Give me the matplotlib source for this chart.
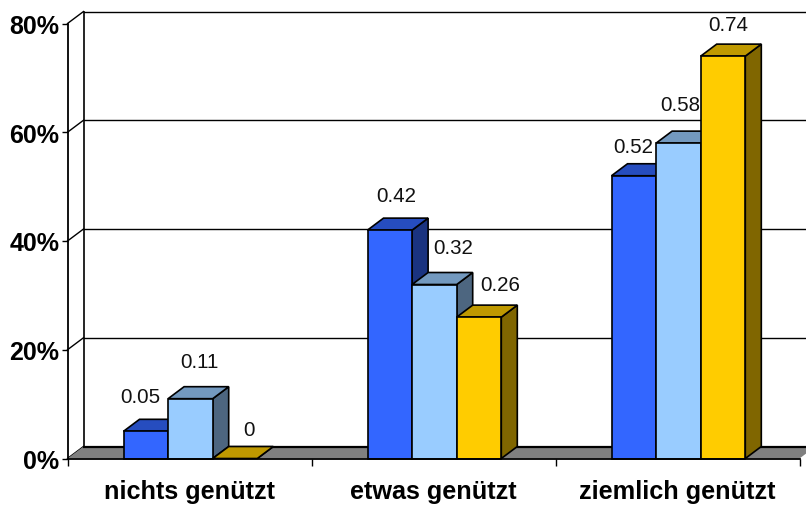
import matplotlib
matplotlib.use("Agg")
import matplotlib.pyplot as plt
from matplotlib.patches import Polygon

plt.rcParams["font.family"] = ["Liberation Sans", "DejaVu Sans"]

categories = ["nichts genützt", "etwas genützt", "ziemlich genützt"]
series_a = [0.05, 0.42, 0.52]
series_b = [0.11, 0.32, 0.58]
series_c = [0, 0.26, 0.74]
y_ticks = [0, 0.2, 0.4, 0.6, 0.8]
y_labels = ["0%", "20%", "40%", "60%", "80%"]

# front, top, side colour per series
colors_a = ("#3366FF", "#264DBF", "#1A3380")
colors_b = ("#99CCFF", "#7399BF", "#4D6680")
colors_c = ("#FFCC00", "#BF9900", "#806600")

# pixel nudges of the value labels relative to the bar centre / top
nudge_a = [(-5, 35), (6, 35), (-1, 29)]
nudge_b = [(9, 37), (19, 37), (2, 39)]
nudge_c = [(14, 29), (21, 33), (5, 32)]

W, H = 806, 506
fig = plt.figure(figsize=(W / 100, H / 100), dpi=100)
ax = fig.add_axes([67.5 / W, (H - 459.5) / H, 732 / W, 435 / H])
ax.set_xlim(0, 3)
ax.set_ylim(0, 0.8)

# depth of the fake 3d box, in data units
dx = 16 / 244
dy = 12 / 544
bar_w = 44.6 / 244
first = 56 / 244

lw = 1.2
ax.patch.set_visible(False)

# back wall
for v in y_ticks:
    ax.plot([0, dx], [v, v + dy], color="black", lw=1.0, clip_on=False, zorder=1)
    if v > 0:
        ax.plot([dx, 3.03], [v + dy, v + dy], color="black", lw=1.0, clip_on=False, zorder=1)
ax.plot([dx, dx], [dy, 0.8 + dy], color="black", lw=1.2, clip_on=False, zorder=1)

# floor
ax.add_patch(Polygon([(0, 0), (3, 0), (3 + dx, dy), (dx, dy)], closed=True,
                     facecolor="#808080", edgecolor="none", clip_on=False, zorder=1.5))
ax.plot([dx, 3.03], [dy, dy], color="black", lw=1.6, clip_on=False, zorder=1.6)


def draw_bar(x0, v, cols):
    x1 = x0 + bar_w
    ax.add_patch(Polygon([(x1, 0), (x1 + dx, dy), (x1 + dx, v + dy), (x1, v)], closed=True,
                         facecolor=cols[2], edgecolor="black", lw=lw, clip_on=False, zorder=3))
    ax.add_patch(Polygon([(x0, v), (x1, v), (x1 + dx, v + dy), (x0 + dx, v + dy)], closed=True,
                         facecolor=cols[1], edgecolor="black", lw=lw, clip_on=False, zorder=3))
    if v > 0:
        ax.add_patch(Polygon([(x0, 0), (x1, 0), (x1, v), (x0, v)], closed=True,
                             facecolor=cols[0], edgecolor="black", lw=lw, clip_on=False, zorder=3))


for i in range(len(categories)):
    rows = [(series_a, colors_a, nudge_a), (series_b, colors_b, nudge_b), (series_c, colors_c, nudge_c)]
    for j, (vals, cols, nudge) in enumerate(rows):
        x0 = i + first + j * bar_w
        draw_bar(x0, vals[i], cols)
        ax.annotate(str(vals[i]), (x0 + bar_w / 2, vals[i]),
                    xytext=(nudge[i][0] * 0.72, nudge[i][1] * 0.72), textcoords="offset points",
                    ha="center", va="center", fontsize=14.8, color="#111111",
                    annotation_clip=False, zorder=5)

# axes
for s in ["top", "right"]:
    ax.spines[s].set_visible(False)
for s in ["left", "bottom"]:
    ax.spines[s].set_linewidth(1.3)
    ax.spines[s].set_zorder(4)

ax.set_yticks(y_ticks)
ax.set_yticklabels(y_labels, fontsize=18, fontweight="bold")
ax.tick_params(axis="y", length=4, width=1.0, pad=2)
ax.set_xticks([0, 1, 2, 3])
ax.set_xticklabels([])
ax.tick_params(axis="x", which="major", length=5, width=1.0)
ax.set_xticks([0.5, 1.5, 2.5], minor=True)
ax.set_xticklabels(categories, minor=True, fontsize=18.2, fontweight="bold")
ax.tick_params(axis="x", which="minor", length=0, pad=15)

fig.savefig("out.png", dpi=100)
